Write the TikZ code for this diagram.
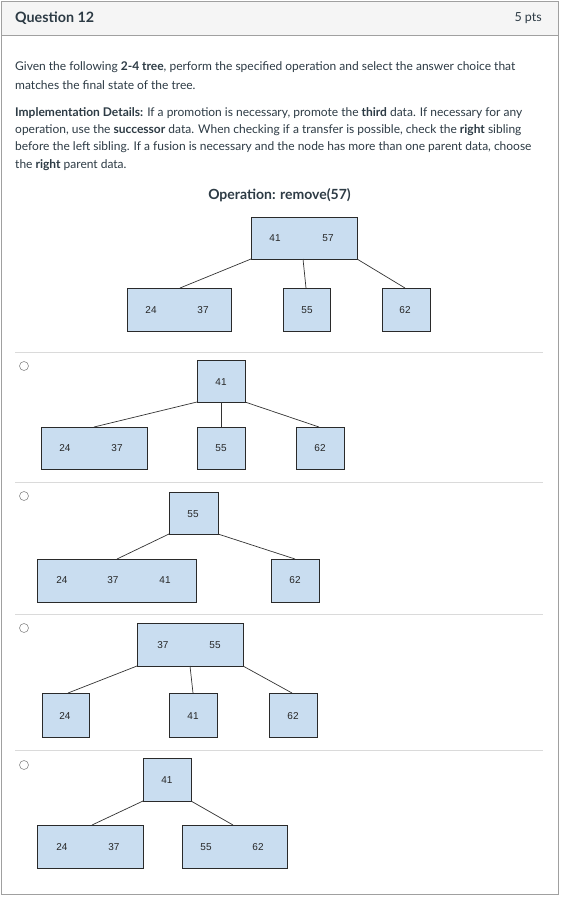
\documentclass[tikz,border=0pt]{standalone}
\usepackage{fontspec}
\setmainfont{Lato}
\newfontfamily\boxfont{Liberation Sans}
\definecolor{txt}{HTML}{2D3B45}
\definecolor{boxfill}{HTML}{C9DDF0}
\definecolor{boxline}{HTML}{2A2A2A}
\definecolor{hdr}{HTML}{F5F5F5}
\definecolor{frame}{HTML}{A0A0A0}
\definecolor{divider}{HTML}{DADADA}
\tikzset{
  x=1pt, y=-1pt,
  tnode/.style={draw=boxline, fill=boxfill, line width=0.9pt, inner sep=0pt},
  num/.style={font=\boxfont\fontsize{10}{12}\selectfont, text=black!85, inner sep=0pt},
  edge/.style={draw=black!80, line width=0.7pt},
  bodytext/.style={anchor=west, inner sep=0pt, text=txt, font=\fontsize{12}{14}\selectfont},
  radio/.style={draw=black!45, line width=0.6pt, circle, minimum size=9pt, inner sep=0pt},
  divline/.style={draw=divider, line width=0.8pt}
}
\begin{document}
\begin{tikzpicture}
\useasboundingbox (0,0) rectangle (562,897);
% frame and header
\fill[white] (0,0) rectangle (562,897);
\fill[hdr] (1,1) rectangle (558,35);
\draw[frame, line width=1pt] (1,35) -- (558,35);
\draw[frame, line width=1pt] (1,1) rectangle (558,894);
\node[anchor=west, inner sep=0pt, text=txt, font=\bfseries\fontsize{14.3}{16}\selectfont] (qtitle) at (15,18) {Question 12};
\node[anchor=east, inner sep=0pt, text=txt, font=\fontsize{12.5}{14}\selectfont] (pts) at (542,18) {5 pts};
% body text
\node[bodytext] (l1) at (15,67) {Given the following \textbf{2-4 tree}, perform the specified operation and select the answer choice that};
\node[bodytext] (l2) at (15,85) {matches the final state of the tree.};
\node[bodytext] (l3) at (15,113) {\textbf{Implementation Details:} If a promotion is necessary, promote the \textbf{third} data. If necessary for any};
\node[bodytext] (l4) at (15,130) {operation, use the \textbf{successor} data. When checking if a transfer is possible, check the \textbf{right} sibling};
\node[bodytext] (l5) at (15,147.5) {before the left sibling. If a fusion is necessary and the node has more than one parent data, choose};
\node[bodytext] (l6) at (15,165) {the \textbf{right} parent data.};
\node[inner sep=0pt, text=txt, font=\bfseries\fontsize{14}{16}\selectfont] (op) at (279.5,195) {Operation: remove(57)};

% question tree
\draw[tnode] (251,217) rectangle (357,259);
\node[num] (q41) at (275,238) {41};
\node[num] (q57) at (328,238) {57};
\draw[tnode] (127,288) rectangle (231,331);
\node[num] (q24) at (151,310) {24};
\node[num] (q37) at (203,310) {37};
\draw[tnode] (283,288) rectangle (330,331);
\node[num] (q55) at (307,310) {55};
\draw[tnode] (382,288) rectangle (430,331);
\node[num] (q62) at (405,310) {62};
\coordinate (qa1) at (251,259); \coordinate (qb1) at (180,288);
\coordinate (qa2) at (303,259); \coordinate (qb2) at (306,288);
\coordinate (qa3) at (357,259); \coordinate (qb3) at (405,288);
\draw[edge] (qa1) -- (qb1);
\draw[edge] (qa2) -- (qb2);
\draw[edge] (qa3) -- (qb3);

% dividers
\coordinate (d1a) at (15,352); \coordinate (d1b) at (543,352);
\coordinate (d2a) at (15,482); \coordinate (d2b) at (543,482);
\coordinate (d3a) at (15,614); \coordinate (d3b) at (543,614);
\coordinate (d4a) at (15,750); \coordinate (d4b) at (543,750);
\draw[divline] (d1a) -- (d1b);
\draw[divline] (d2a) -- (d2b);
\draw[divline] (d3a) -- (d3b);
\draw[divline] (d4a) -- (d4b);

% radios
\node[radio] (ra) at (24,366) {};
\node[radio] (rb) at (24,496) {};
\node[radio] (rc) at (24,628) {};
\node[radio] (rd) at (24,765) {};

% option A
\draw[tnode] (197,360) rectangle (245,402);
\node[num] (a41) at (221,382) {41};
\draw[tnode] (41,427) rectangle (147,469);
\node[num] (a24) at (65,448) {24};
\node[num] (a37) at (117,448) {37};
\draw[tnode] (197,427) rectangle (245,469);
\node[num] (a55) at (221,448) {55};
\draw[tnode] (296,427) rectangle (344,469);
\node[num] (a62) at (320,448) {62};
\coordinate (aa1) at (197,402); \coordinate (ab1) at (94,427);
\coordinate (aa2) at (221,402); \coordinate (ab2) at (221,427);
\coordinate (aa3) at (245,402); \coordinate (ab3) at (319,427);
\draw[edge] (aa1) -- (ab1);
\draw[edge] (aa2) -- (ab2);
\draw[edge] (aa3) -- (ab3);

% option B
\draw[tnode] (169,492) rectangle (218,534);
\node[num] (b55) at (193,514) {55};
\draw[tnode] (37,559) rectangle (196,602);
\node[num] (b24) at (62,580) {24};
\node[num] (b37) at (113,580) {37};
\node[num] (b41) at (165,580) {41};
\draw[tnode] (271,559) rectangle (319,602);
\node[num] (b62) at (295,580) {62};
\coordinate (ba1) at (169,534); \coordinate (bb1) at (117,559);
\coordinate (ba2) at (218,534); \coordinate (bb2) at (295,559);
\draw[edge] (ba1) -- (bb1);
\draw[edge] (ba2) -- (bb2);

% option C
\draw[tnode] (137,623) rectangle (243,666);
\node[num] (c37) at (163,645) {37};
\node[num] (c55) at (215,645) {55};
\draw[tnode] (42,693) rectangle (89,737);
\node[num] (c24) at (65,716) {24};
\draw[tnode] (169,693) rectangle (217,737);
\node[num] (c41) at (193,716) {41};
\draw[tnode] (269,693) rectangle (317,737);
\node[num] (c62) at (293,716) {62};
\coordinate (ca1) at (137,666); \coordinate (cb1) at (68,693);
\coordinate (ca2) at (190,666); \coordinate (cb2) at (193,693);
\coordinate (ca3) at (243,666); \coordinate (cb3) at (292,693);
\draw[edge] (ca1) -- (cb1);
\draw[edge] (ca2) -- (cb2);
\draw[edge] (ca3) -- (cb3);

% option D
\draw[tnode] (143,758) rectangle (191,801);
\node[num] (d41) at (167,780) {41};
\draw[tnode] (37,825) rectangle (143,868);
\node[num] (d24) at (62,847) {24};
\node[num] (d37) at (114,847) {37};
\draw[tnode] (182,825) rectangle (287,868);
\node[num] (d55) at (206,847) {55};
\node[num] (d62) at (258,847) {62};
\coordinate (da1) at (143,801); \coordinate (db1) at (92,825);
\coordinate (da2) at (191,801); \coordinate (db2) at (233,825);
\draw[edge] (da1) -- (db1);
\draw[edge] (da2) -- (db2);
\end{tikzpicture}
\end{document}
